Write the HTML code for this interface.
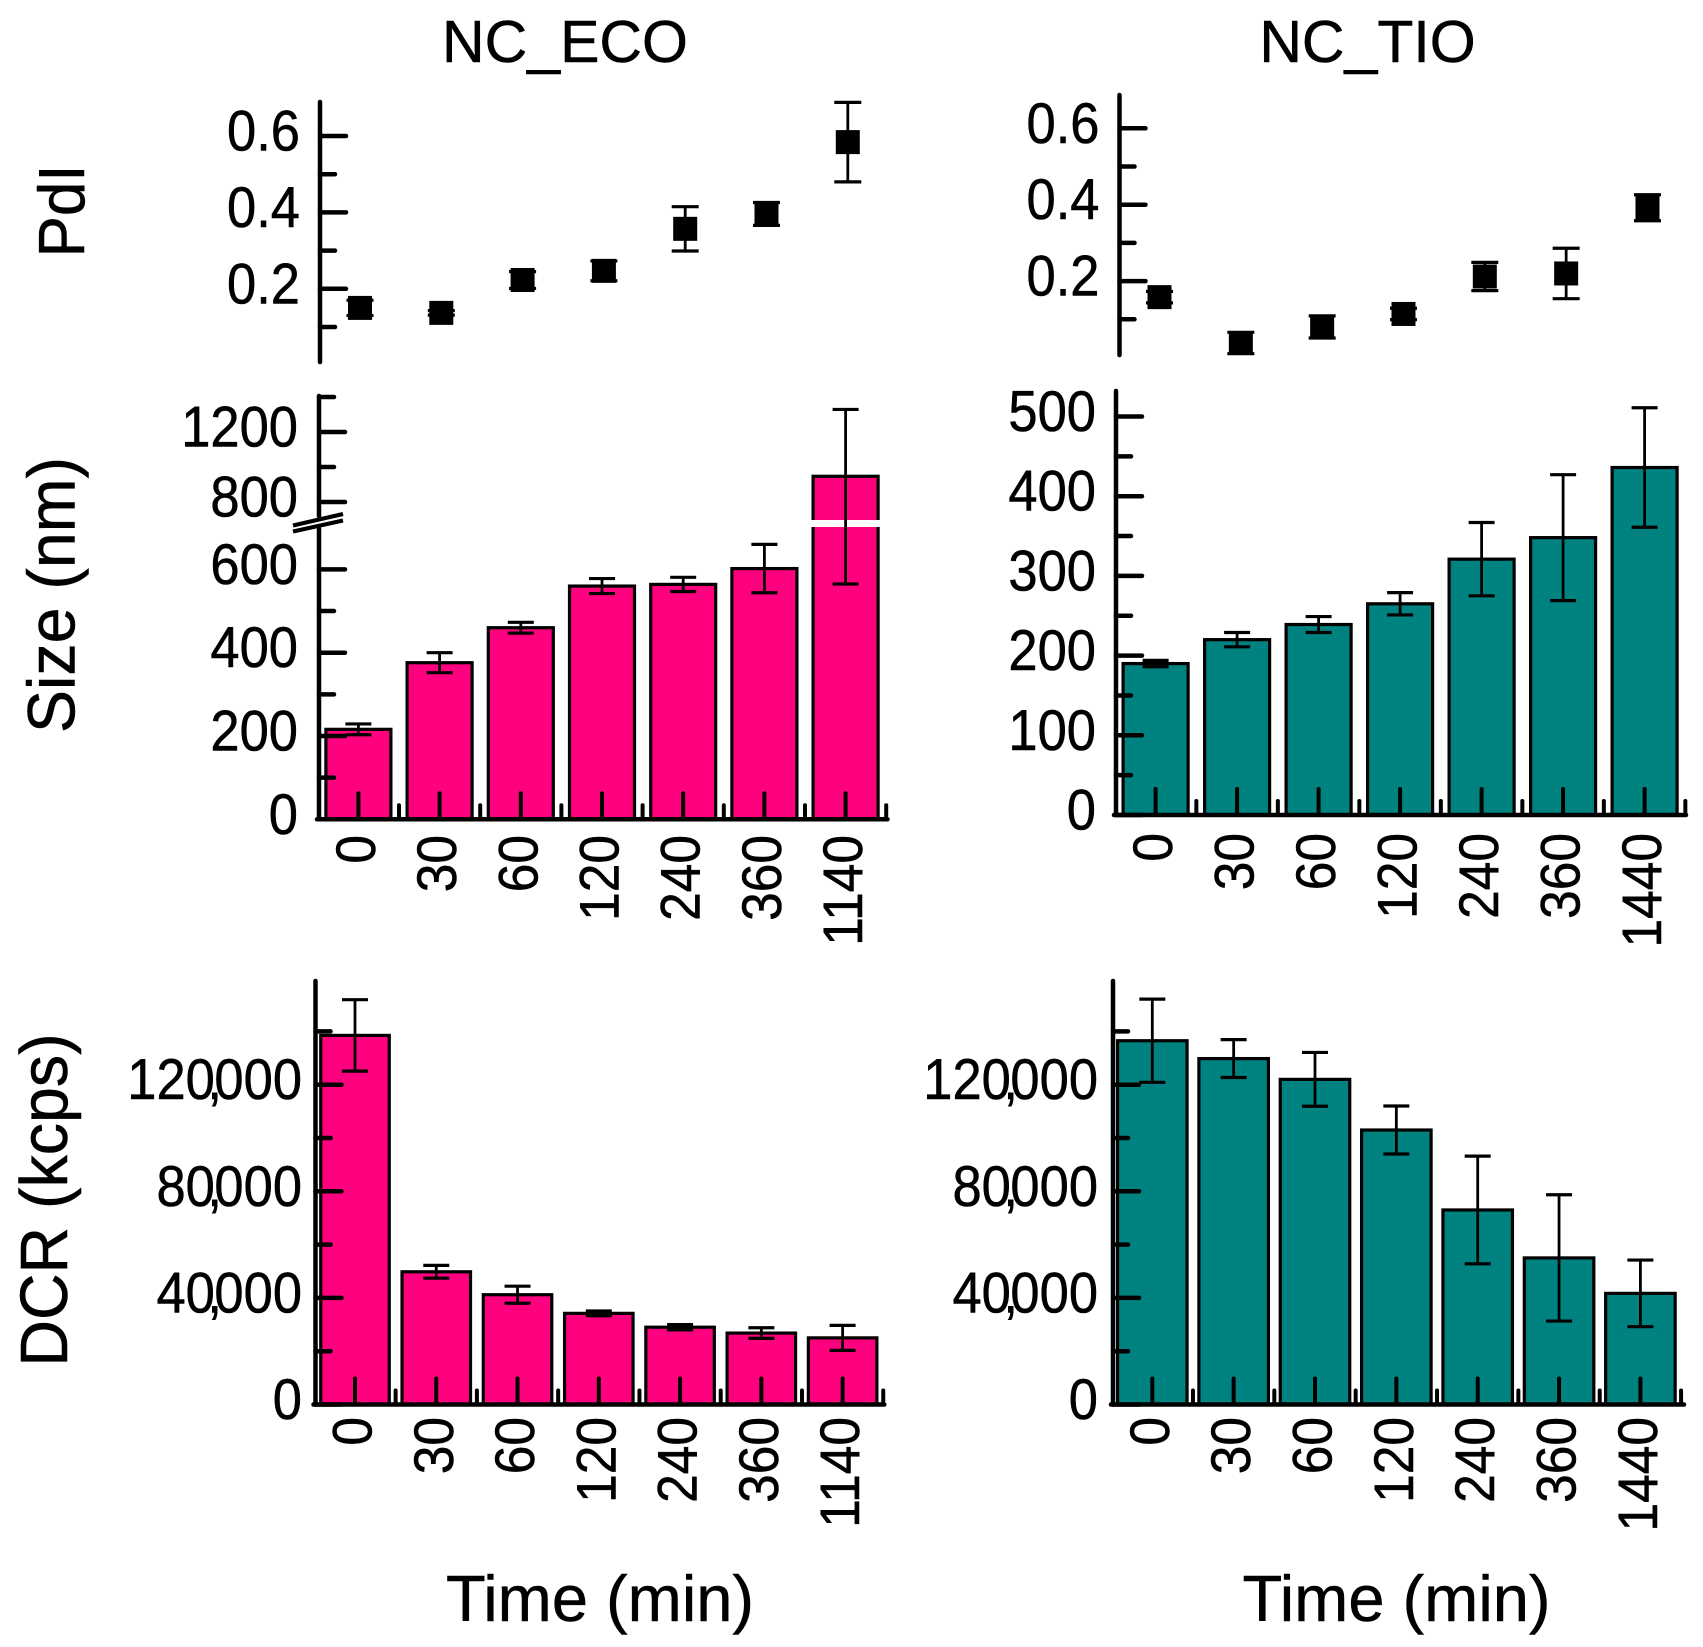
<!DOCTYPE html>
<html lang="en">
<head>
<meta charset="utf-8">
<title>NC_ECO and NC_TIO stability charts</title>
<style>
html,body{margin:0;padding:0;background:#fff;}
svg{display:block;font-family:"Liberation Sans",Arial,sans-serif;fill:#000;}
text{stroke:#000;stroke-width:0.5px;}
</style>
</head>
<body>
<svg id="chart" xmlns="http://www.w3.org/2000/svg" width="1703" height="1647" viewBox="0 0 1703 1647">
  <rect x="0" y="0" width="1703" height="1647" fill="#fff"/>
  <text x="565" y="62" font-size="59" text-anchor="middle">NC_ECO</text>
  <text x="1367.5" y="62" font-size="59" text-anchor="middle">NC_TIO</text>
  <text transform="translate(84 211) rotate(-90) scale(1 1.04)" font-size="62" text-anchor="middle">PdI</text>
  <text transform="translate(74.5 595) rotate(-90) scale(1 1.04)" font-size="64.5" text-anchor="middle">Size (nm)</text>
  <text transform="translate(67 1200) rotate(-90) scale(1 1.04)" font-size="64.5" text-anchor="middle">DCR (kcps)</text>
  <text x="600" y="1621" font-size="65" text-anchor="middle">Time (min)</text>
  <text x="1396.5" y="1621" font-size="65" text-anchor="middle">Time (min)</text>
  <g id="plots"></g>
</svg>
<script>
const timeLabelsEco = ['0','30','60','120','240','360','1140'];
const timeLabelsTio = ['0','30','60','120','240','360','1440'];

const pdiEcoValues = [0.15,0.137,0.223,0.247,0.357,0.396,0.584];
const pdiEcoErrors = [0.02,0.006,0.022,0.026,0.058,0.03,0.104];
const pdiTioValues = [0.158,0.038,0.08,0.114,0.212,0.22,0.392];
const pdiTioErrors = [0.015,0.028,0.029,0.015,0.037,0.066,0.034];

const sizeEcoValues = [216,376,460,560,564,602,947];
const sizeEcoErrors = [13,24,13,18,17,58,382];
const sizeTioValues = [190,220,239,265,321,348,436];
const sizeTioErrors = [4,9,10,14,46,79,75];

const dcrEcoValues = [138500,49800,41200,34200,29000,26800,25000];
const dcrEcoErrors = [13400,2400,3200,900,1000,2000,4700];
const dcrTioValues = [136500,129800,122000,103000,73000,55000,41700];
const dcrTioErrors = [15600,7100,10100,9000,20200,23700,12500];

const pdiMajorTicks = [0.2,0.4,0.6];
const pdiMinorTicks = [0.1,0.3,0.5];
const sizeEcoMajorTicks = [0,200,400,600,800,1200];
const sizeEcoMinorTicks = [100,300,500,1000,1400];
const sizeTioMajorTicks = [0,100,200,300,400,500];
const sizeTioMinorTicks = [50,150,250,350,450];
const dcrMajorTicks = [0,40000,80000,120000];
const dcrMinorTicks = [20000,60000,100000,140000];

const NS = 'http://www.w3.org/2000/svg';
const plots = document.getElementById('plots');
const PINK = '#ff007f';
const TEAL = '#008280';

function make(tag, attrs, parent) {
  const node = document.createElementNS(NS, tag);
  for (const k in attrs) node.setAttribute(k, attrs[k]);
  parent.appendChild(node);
  return node;
}
function linearScale(y0, pxPerUnit) {
  return function (v) { return y0 - v * pxPerUnit; };
}
function brokenScale(y0, lowerRate, upperAnchorValue, upperAnchorY, upperRate) {
  return function (v) {
    return v <= 710 ? y0 - v * lowerRate : upperAnchorY - (v - upperAnchorValue) * upperRate;
  };
}
function seg(parent, x1, y1, x2, y2, width) {
  return make('line', {x1:x1, y1:y1, x2:x2, y2:y2, stroke:'#000', 'stroke-width':width, 'stroke-linecap':'round'}, parent);
}
function setLabelText(node, label) {
  const parts = label.split(',');
  node.textContent = parts[0];
  if (parts.length > 1) {
    const comma = make('tspan', {dx:-7.5}, node);
    comma.textContent = ',';
    const rest = make('tspan', {dx:-7.5}, node);
    rest.textContent = parts[1];
  }
}
function yAxis(g, p) {
  if (p.breakGap) {
    const upper = seg(g, p.axisX, p.top, p.axisX, p.breakGap[0], 4.5);
    
    
    const lower = seg(g, p.axisX, p.breakGap[1], p.axisX, p.bottom, 4.5);
    
    
  } else {
    const line = seg(g, p.axisX, p.top, p.axisX, p.bottom, 4.5);
    
    
  }
  p.majorTicks.forEach(function (v) {
    const y = p.scale(v);
    const tick = seg(g, p.axisX, y, p.axisX + 26, y, 4.5);
    
    
    const label = make('text', {
      transform:'translate(' + p.labelX + ' ' + (y + 14.5) + ') scale(1 1.1)',
      'font-size':52.5, 'text-anchor':'end', 'font-kerning':'none'
    }, g);
    setLabelText(label, p.format(v));
    
    
  });
  p.minorTicks.forEach(function (v) {
    const y = p.scale(v);
    const tick = seg(g, p.axisX, y, p.axisX + 15, y, 4.5);
    
    
  });
}
function xAxis(g, p) {
  const line = seg(g, p.axisX - 2, p.bottom, p.axisEnd, p.bottom, 4.5);
  
  
  p.categories.forEach(function (c, i) {
    const x = p.x(i);
    const tick = seg(g, x, p.bottom, x, p.bottom - 26, 4);
    
    
    const minor = seg(g, x + p.step / 2, p.bottom, x + p.step / 2, p.bottom - 14, 4);
    
    
    const label = make('text', {
      transform:'translate(' + (x + 16.5) + ' ' + p.labelTop + ') rotate(-90) scale(1 1.08)',
      'font-size':51.5, 'text-anchor':'end', 'font-kerning':'none'
    }, g);
    label.textContent = c;
    
    
  });
}
function errorBar(g, x, v, e, scale, capWidth) {
  const top = scale(v + e);
  const low = scale(v - e);
  const stem = make('line', {x1:x, y1:top, x2:x, y2:low, stroke:'#000', 'stroke-width':2.8}, g);
  
  
  const capTop = make('line', {x1:x - capWidth / 2, y1:top, x2:x + capWidth / 2, y2:top, stroke:'#000', 'stroke-width':3.2}, g);
  
  
  const capLow = make('line', {x1:x - capWidth / 2, y1:low, x2:x + capWidth / 2, y2:low, stroke:'#000', 'stroke-width':3.2}, g);
  
  
}
function scatterPanel(p) {
  const g = make('g', {}, plots);
  
  
  yAxis(g, p);
  p.values.forEach(function (v, i) {
    const x = p.x(i);
    errorBar(g, x, v, p.errors[i], p.scale, 27);
    const y = p.scale(v);
    const marker = make('rect', {x:x - 12, y:y - 12, width:24, height:24, fill:'#000'}, g);
    
    
  });
}
function barPanel(p) {
  const g = make('g', {}, plots);
  
  
  p.values.forEach(function (v, i) {
    const x = p.x(i);
    const y = p.scale(v);
    const bar = make('rect', {
      x:x - p.barWidth / 2, y:y, width:p.barWidth, height:p.bottom - y,
      fill:p.color, stroke:'#000', 'stroke-width':3.2
    }, g);
    
    
  });
  if (p.breakGap) {
    const last = p.x(p.values.length - 1);
    const stripe = make('rect', {x:last - p.barWidth / 2 - 3, y:520, width:p.barWidth + 6, height:7, fill:'#fff'}, g);
    
    
    const mark1 = make('line', {x1:293, y1:525.5, x2:343, y2:514, stroke:'#000', 'stroke-width':4.2}, g);
    
    
    const mark2 = make('line', {x1:293, y1:531.5, x2:343, y2:520.5, stroke:'#000', 'stroke-width':4.2}, g);
    
    
  }
  yAxis(g, p);
  xAxis(g, p);
  p.values.forEach(function (v, i) {
    errorBar(g, p.x(i), v, p.errors[i], p.scale, 26);
  });
}
function stepX(x0, step) {
  return function (i) { return x0 + i * step; };
}
const fmtPdi = function (v) { return v.toFixed(1); };
const fmtPlain = function (v) { return String(v); };
const fmtThousands = function (v) {
  return v >= 1000 ? Math.floor(v / 1000) + ',000' : String(v);
};

scatterPanel({
  name:'pdi-panel-eco', axisX:320, top:102, bottom:362, labelX:300,
  scale:function (v) { return 365.2 - v * 382; }, x:stepX(360, 81.3),
  values:pdiEcoValues, errors:pdiEcoErrors,
  majorTicks:pdiMajorTicks, minorTicks:pdiMinorTicks, format:fmtPdi
});
scatterPanel({
  name:'pdi-panel-tio', axisX:1119.5, top:95, bottom:355, labelX:1099.5,
  scale:function (v) { return 357.5 - v * 382; }, x:stepX(1159.5, 81.33),
  values:pdiTioValues, errors:pdiTioErrors,
  majorTicks:pdiMajorTicks, minorTicks:pdiMinorTicks, format:fmtPdi
});
barPanel({
  name:'size-panel-eco', axisX:319, axisEnd:887.5, top:396, bottom:819.3, labelTop:835, labelX:298,
  breakGap:[516, 529],
  scale:brokenScale(819.3, 0.4165, 800, 502, 0.175), x:stepX(358.4, 81.2), step:81.2, barWidth:65,
  values:sizeEcoValues, errors:sizeEcoErrors, categories:timeLabelsEco, color:PINK,
  majorTicks:sizeEcoMajorTicks, minorTicks:sizeEcoMinorTicks, format:fmtPlain
});
barPanel({
  name:'size-panel-tio', axisX:1116, axisEnd:1686, top:391, bottom:815, labelTop:833, labelX:1096,
  scale:linearScale(815, 0.797), x:stepX(1155.6, 81.5), step:81.5, barWidth:65,
  values:sizeTioValues, errors:sizeTioErrors, categories:timeLabelsTio, color:TEAL,
  majorTicks:sizeTioMajorTicks, minorTicks:sizeTioMinorTicks, format:fmtPlain
});
barPanel({
  name:'dcr-panel-eco', axisX:315.5, axisEnd:884.3, top:981, bottom:1404.5, labelTop:1417, labelX:302,
  scale:linearScale(1404.5, 0.002665), x:stepX(355, 81.27), step:81.27, barWidth:68.5,
  values:dcrEcoValues, errors:dcrEcoErrors, categories:timeLabelsEco, color:PINK,
  majorTicks:dcrMajorTicks, minorTicks:dcrMinorTicks, format:fmtThousands
});
barPanel({
  name:'dcr-panel-tio', axisX:1113, axisEnd:1684, top:981, bottom:1404.5, labelTop:1417, labelX:1098,
  scale:linearScale(1404.5, 0.002665), x:stepX(1152.3, 81.35), step:81.35, barWidth:69.5,
  values:dcrTioValues, errors:dcrTioErrors, categories:timeLabelsTio, color:TEAL,
  majorTicks:dcrMajorTicks, minorTicks:dcrMinorTicks, format:fmtThousands
});
</script>
</body>
</html>
